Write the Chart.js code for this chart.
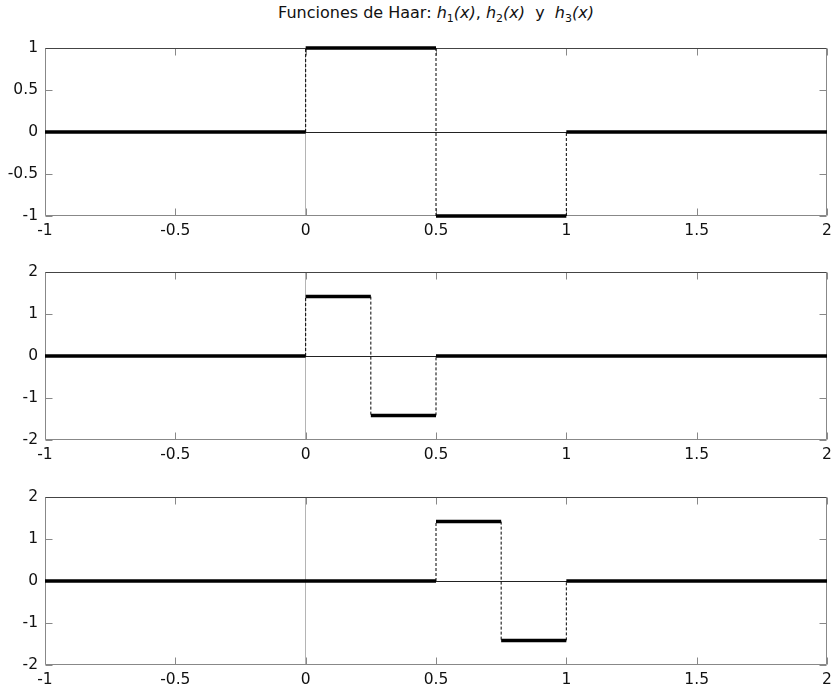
<!DOCTYPE html>
<html>
<head>
<meta charset="utf-8">
<title>Funciones de Haar</title>
<script src="https://cdn.jsdelivr.net/npm/chart.js@4.4.1/dist/chart.umd.min.js"></script>
<style>
  body { margin: 0; background: #fff; width: 834px; height: 689px; position: relative; overflow: hidden; font-family: "DejaVu Sans", sans-serif; }
  #title { position: absolute; left: 45px; width: 782px; top: 3px; text-align: center; font-size: 16px; color: #111; white-space: pre; }
  #title sub { font-size: 11px; font-style: normal; vertical-align: -4px; }
  canvas { position: absolute; left: 0; }
</style>
</head>
<body>
<div id="title">Funciones de Haar: <i>h<sub>1</sub>(x)</i>, <i>h<sub>2</sub>(x)</i>  y  <i>h<sub>3</sub>(x)</i></div>
<canvas id="c1" width="834" height="206" style="top:40px"></canvas>
<canvas id="c2" width="834" height="206" style="top:264px"></canvas>
<canvas id="c3" width="834" height="206" style="top:489px"></canvas>
<script>
const xTickValues = [-1, -0.5, 0, 0.5, 1, 1.5, 2];
const yTicks1 = [-1, -0.5, 0, 0.5, 1];
const yTicks23 = [-2, -1, 0, 1, 2];

// each function: interval breakpoints and the constant value on each interval
const h1Breaks = [-1, 0, 0.5, 1, 2];
const h1Values = [0, 1, -1, 0];
const h2Breaks = [-1, 0, 0.25, 0.5, 2];
const h2Values = [0, 1.414, -1.414, 0];
const h3Breaks = [-1, 0.5, 0.75, 1, 2];
const h3Values = [0, 1.414, -1.414, 0];

const FONT = { family: '"DejaVu Sans", sans-serif', size: 15.5 };

// thick horizontal pieces + thin dashed jumps
function stepData(breaks, values) {
  const flat = [], jumps = [];
  values.forEach((v, i) => {
    flat.push({ x: breaks[i], y: v }, { x: breaks[i + 1], y: v }, { x: breaks[i + 1], y: null });
    if (i > 0) {
      jumps.push({ x: breaks[i], y: values[i - 1] }, { x: breaks[i], y: v }, { x: breaks[i], y: null });
    }
  });
  return { flat, jumps };
}

// box around the plot area and inward tick marks on all four sides,
// drawn before the lines so the thick pieces sit on top of the border
const frame = {
  id: 'frame',
  beforeDatasetsDraw(chart) {
    const { ctx, chartArea: a, scales: { x, y } } = chart;
    const L = Math.round(a.left) + 0.5, R = Math.round(a.right) - 0.5;
    const T = Math.round(a.top) + 0.5, B = Math.round(a.bottom) - 0.5;
    ctx.save();
    ctx.lineWidth = 1;
    ctx.strokeStyle = '#888';
    ctx.beginPath();
    x.ticks.forEach(t => {
      const px = Math.round(x.getPixelForValue(t.value)) + 0.5;
      ctx.moveTo(px, B); ctx.lineTo(px, B - 7);
      ctx.moveTo(px, T); ctx.lineTo(px, T + 7);
    });
    y.ticks.forEach(t => {
      const py = Math.round(y.getPixelForValue(t.value)) + 0.5;
      ctx.moveTo(L, py); ctx.lineTo(L + 7, py);
      ctx.moveTo(R, py); ctx.lineTo(R - 7, py);
    });
    ctx.stroke();
    ctx.beginPath();
    ctx.moveTo(L, T); ctx.lineTo(L, B); ctx.lineTo(R, B); ctx.lineTo(R, T);
    ctx.stroke();
    ctx.strokeStyle = '#444';
    ctx.beginPath();
    ctx.moveTo(L, T); ctx.lineTo(R, T);
    ctx.stroke();
    ctx.restore();
  }
};

function makePanel(id, breaks, values, yTicks) {
  const d = stepData(breaks, values);
  return new Chart(document.getElementById(id), {
    type: 'line',
    data: {
      datasets: [
        { data: d.jumps, borderColor: '#000', borderWidth: 1, borderDash: [3, 2], pointRadius: 0, spanGaps: false, clip: false },
        { data: d.flat, borderColor: '#000', borderWidth: 3.5, borderCapStyle: 'butt', pointRadius: 0, spanGaps: false, clip: false }
      ]
    },
    options: {
      responsive: false,
      animation: false,
      events: [],
      layout: { padding: { top: 8, right: 7, left: 0, bottom: 0 } },
      plugins: { legend: { display: false }, tooltip: { enabled: false }, title: { display: false } },
      scales: {
        x: {
          type: 'linear',
          min: xTickValues[0],
          max: xTickValues[xTickValues.length - 1],
          afterBuildTicks: s => { s.ticks = xTickValues.map(v => ({ value: v })); },
          afterFit: s => { s.height = 30; s.paddingLeft = 0; s.paddingRight = 0; },
          border: { display: false },
          grid: {
            drawTicks: false,
            lineWidth: 1,
            color: c => (c.tick && c.tick.value === 0 ? '#b4b4b4' : 'rgba(0,0,0,0)')
          },
          ticks: { color: '#111', font: FONT, padding: 6, maxRotation: 0, autoSkip: false, callback: v => String(v) }
        },
        y: {
          type: 'linear',
          min: yTicks[0],
          max: yTicks[yTicks.length - 1],
          afterBuildTicks: s => { s.ticks = yTicks.map(v => ({ value: v })); },
          afterFit: s => { s.width = 45; s.paddingTop = 0; s.paddingBottom = 0; },
          border: { display: false },
          grid: {
            drawTicks: false,
            lineWidth: 1,
            color: c => (c.tick && c.tick.value === 0 ? '#222' : 'rgba(0,0,0,0)')
          },
          ticks: { color: '#111', font: FONT, padding: 7, autoSkip: false, callback: v => String(v) }
        }
      }
    },
    plugins: [frame]
  });
}

makePanel('c1', h1Breaks, h1Values, yTicks1);
makePanel('c2', h2Breaks, h2Values, yTicks23);
makePanel('c3', h3Breaks, h3Values, yTicks23);
</script>
</body>
</html>
